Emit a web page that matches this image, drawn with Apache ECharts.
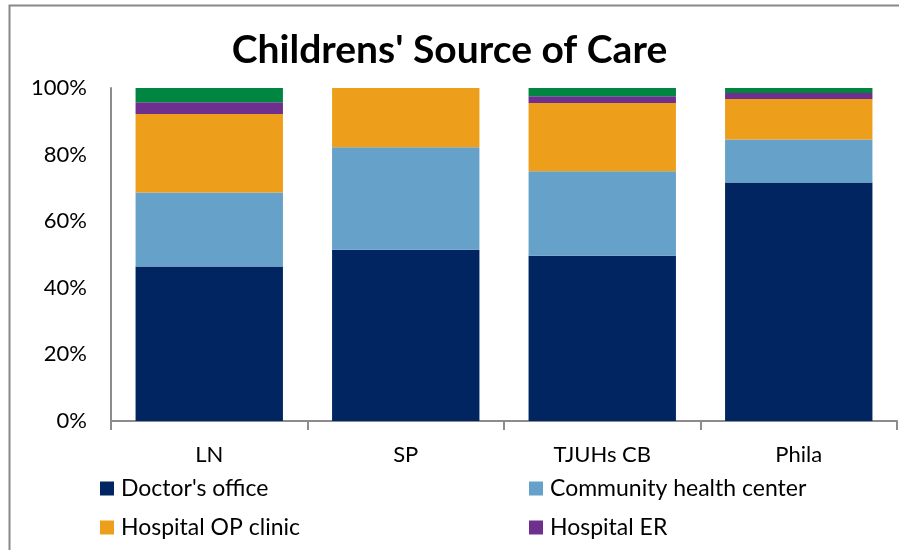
<!DOCTYPE html>
<html>
<head>
<meta charset="utf-8">
<script src="https://cdn.jsdelivr.net/npm/echarts@6/dist/echarts.min.js"></script>
<style>
  html, body { margin: 0; padding: 0; background: #fff; }
  #chart { width: 899px; height: 550px; }
</style>
</head>
<body>
<div id="chart"></div>
<script>
// sites along the x axis
const sites = ['LN', 'SP', 'TJUHs CB', 'Phila'];
// percent of children per source of care (stacked to 100)
const doctorOffice = [46.4, 51.4, 49.6, 71.6];
const communityHealth = [22.2, 30.8, 25.4, 12.9];
const hospitalOP = [23.6, 17.8, 20.5, 12.2];
const hospitalER = [3.5, 0, 2.0, 1.8];
const otherCare = [4.3, 0, 2.5, 1.5];
const yTicks = [0, 20, 40, 60, 80, 100];
// legend shows only the first four series, in two columns
const legendNames = ['Doctor\'s office', 'Community health center', 'Hospital OP clinic', 'Hospital ER'];

const chart = echarts.init(document.getElementById('chart'));

const font = 'Lato, "Open Sans", sans-serif';

function bar(name, data, color) {
  return {
    name: name,
    type: 'bar',
    stack: 'care',
    barCategoryGap: '25%',
    data: data,
    itemStyle: { color: color },
    silent: true
  };
}

// one legend per entry so each can sit in its own cell
const legendPos = [[95, 472], [524, 472], [95, 511], [524, 511]];
const legends = legendNames.map(function (n, i) {
  return {
    data: [n],
    left: legendPos[i][0],
    top: legendPos[i][1],
    itemWidth: 14,
    itemHeight: 14,
    itemGap: 8,
    icon: 'rect',
    textStyle: { fontFamily: font, fontSize: 23, color: '#000', padding: [0, 0, 0, 2] },
    selectedMode: false
  };
});

const option = {
  animation: false,
  title: {
    text: "Childrens' Source of Care",
    left: 'center',
    top: 26,
    textStyle: { fontFamily: font, fontSize: 39, fontWeight: 'bold', color: '#000' }
  },
  graphic: [{
    type: 'rect',
    shape: { x: 9.5, y: 5.5, width: 900, height: 560 },
    style: { fill: 'none', stroke: '#888', lineWidth: 2 },
    silent: true
  }],
  legend: legends,
  grid: { left: 111, right: 2, top: 88, bottom: 129 },
  xAxis: {
    type: 'category',
    data: sites,
    axisLine: { lineStyle: { color: '#8c8c8c', width: 2 } },
    axisTick: { show: true, length: 9, lineStyle: { color: '#8c8c8c', width: 2 } },
    axisLabel: { fontFamily: font, fontSize: 22, color: '#000', margin: 23 }
  },
  yAxis: {
    type: 'value',
    min: yTicks[0],
    max: yTicks[yTicks.length - 1],
    interval: 20,
    axisLine: { show: true, lineStyle: { color: '#8c8c8c', width: 2 } },
    axisTick: { show: false },
    splitLine: { show: false },
    axisLabel: { fontFamily: font, fontSize: 22, color: '#000', margin: 24, formatter: '{value}%' }
  },
  series: [
    bar('Doctor\'s office', doctorOffice, '#002561'),
    bar('Community health center', communityHealth, '#65a1c9'),
    bar('Hospital OP clinic', hospitalOP, '#ed9e1b'),
    bar('Hospital ER', hospitalER, '#6f2f8f'),
    bar('Other', otherCare, '#008641')
  ]
};

chart.setOption(option);
</script>
</body>
</html>
